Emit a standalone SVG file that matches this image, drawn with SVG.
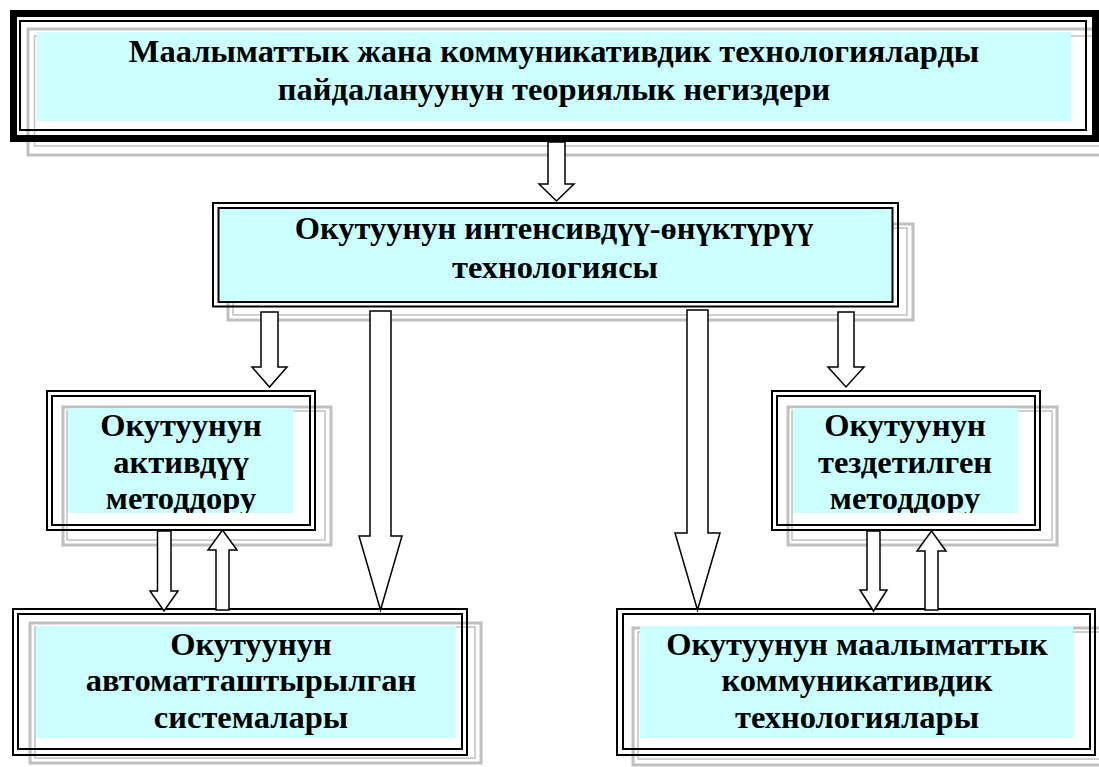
<svg xmlns="http://www.w3.org/2000/svg" width="1099" height="767" viewBox="0 0 1099 767">
<style>
.go{fill:none;stroke:#c0c0c0;stroke-width:3}
.gi{fill:none;stroke:#c0c0c0;stroke-width:1.5}
.bk{fill:none;stroke:#000;stroke-width:2}
.cy{fill:#ccffff}
.ar{fill:#fff;stroke:#000;stroke-width:1.5;stroke-linejoin:miter}
.t{font-family:"Liberation Serif","Times New Roman",serif;font-weight:bold;font-size:32.5px;text-anchor:middle;fill:#000}
</style>
<defs>
<clipPath id="c3"><rect x="68" y="408" width="225" height="105"/></clipPath>
<clipPath id="c4"><rect x="793" y="408" width="225" height="105"/></clipPath>
</defs>
<rect width="1099" height="767" fill="#fff"/>

<g id="node-top">
<rect class="go" x="28" y="29" width="1090" height="126" stroke-width="4"/>
<rect class="gi" x="34.5" y="36" width="1080" height="110"/>
<rect class="cy" x="37" y="32" width="1034" height="89"/>
<rect x="13.5" y="13.5" width="1082" height="125" fill="none" stroke="#000" stroke-width="7"/>
<rect class="bk" x="20" y="21" width="1066" height="109"/>
<text class="t" x="554" y="62">Маалыматтык жана коммуникативдик технологияларды</text>
<text class="t" x="554" y="100">пайдалануунун теориялык негиздери</text>
</g>

<g id="node-intensive">
<rect class="go" x="228" y="224" width="685" height="96"/>
<rect class="gi" x="233" y="228" width="674" height="87"/>
<rect class="cy" x="219" y="209" width="673" height="93"/>
<rect class="bk" x="213" y="203" width="685" height="103.5" stroke-width="2.5"/>
<rect class="bk" x="218.5" y="208" width="674" height="94"/>
<text class="t" x="554" y="239">Окутуунун интенсивдүү-өнүктүрүү</text>
<text class="t" x="555" y="278">технологиясы</text>
</g>

<g id="node-active">
<rect class="go" x="63" y="407" width="268" height="138"/>
<rect class="gi" x="67" y="411" width="258" height="129"/>
<rect class="cy" x="68" y="408" width="225" height="105"/>
<rect class="bk" x="47" y="391" width="268" height="139"/>
<rect class="bk" x="52" y="396" width="258" height="129"/>
<g clip-path="url(#c3)">
<text class="t" x="181" y="436">Окутуунун</text>
<text class="t" x="181" y="473">активдүү</text>
<text class="t" x="181" y="509">методдору</text>
</g>
</g>

<g id="node-accelerated">
<rect class="go" x="788" y="407" width="269" height="138"/>
<rect class="gi" x="792" y="411" width="260" height="129"/>
<rect class="cy" x="793" y="408" width="225" height="105"/>
<rect class="bk" x="772" y="391" width="268" height="139"/>
<rect class="bk" x="777" y="396" width="258" height="129"/>
<g clip-path="url(#c4)">
<text class="t" x="905" y="436">Окутуунун</text>
<text class="t" x="905" y="473">тездетилген</text>
<text class="t" x="905" y="509">методдору</text>
</g>
</g>

<g id="node-automated">
<rect class="go" x="30" y="623" width="451" height="140"/>
<rect class="gi" x="35" y="627" width="440" height="131"/>
<rect class="cy" x="36" y="626" width="420" height="112"/>
<rect class="bk" x="13" y="609" width="454" height="146"/>
<rect class="bk" x="18" y="614" width="444" height="135"/>
<text class="t" x="251" y="655">Окутуунун</text>
<text class="t" x="251" y="691">автоматташтырылган</text>
<text class="t" x="251" y="728">системалары</text>
</g>

<g id="node-ict">
<rect class="go" x="633" y="628" width="480" height="137"/>
<rect class="gi" x="638" y="632" width="470" height="127"/>
<rect class="cy" x="640" y="626" width="433" height="112"/>
<rect class="bk" x="617" y="609" width="478" height="146"/>
<rect class="bk" x="623" y="614" width="467" height="135"/>
<text class="t" x="857" y="655">Окутуунун маалыматтык</text>
<text class="t" x="857" y="691">коммуникативдик</text>
<text class="t" x="857" y="728">технологиялары</text>
</g>

<g id="connectors">
<polygon class="ar" points="548,142 565,142 565,184 574,184 556.5,201 539,184 548,184"/>
<polygon class="ar" points="261,312 278,312 278,367 287,367 269.5,387 252,367 261,367"/>
<polygon class="ar" points="370,311 391,311 391,536 402,536 380.5,610 359,536 370,536"/>
<polygon class="ar" points="687,310 708,310 708,533 720,533 697.5,610 675,533 687,533"/>
<polygon class="ar" points="838,312 854,312 854,367 864,367 846,387 828,367 838,367"/>
<polygon class="ar" points="157.5,531 171,531 171,591 178,591 164,611 150,591 157.5,591"/>
<polygon class="ar" points="216,610 229,610 229,550 237,550 222.5,530 208,550 216,550"/>
<polygon class="ar" points="867,531 880,531 880,590 887,590 873.5,611 860,590 867,590"/>
<polygon class="ar" points="925,610 938,610 938,551 946,551 931.5,531 917,551 925,551"/>
</g>
</svg>
